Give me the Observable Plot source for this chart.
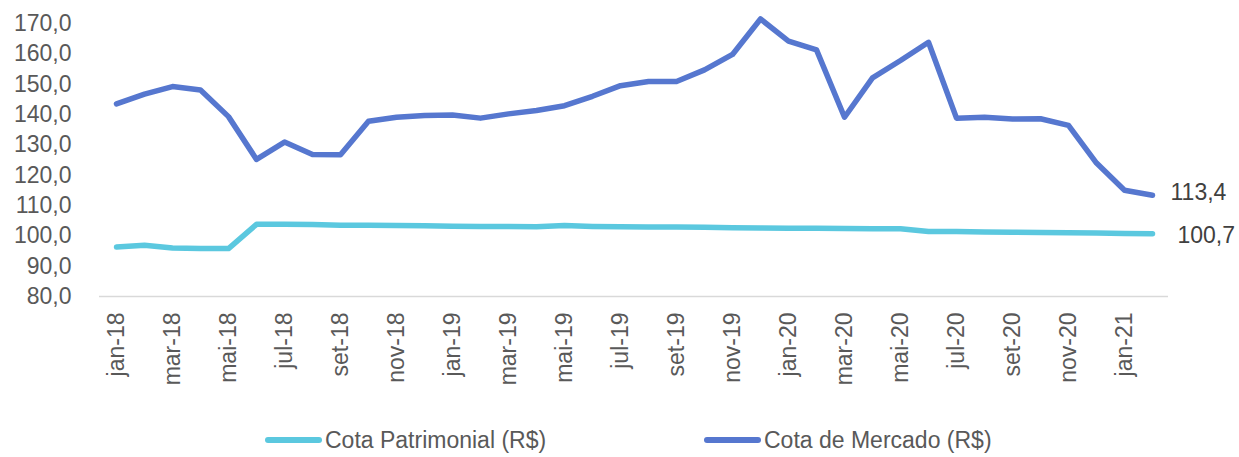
<!DOCTYPE html>
<html>
<head>
<meta charset="utf-8">
<script src="https://cdn.jsdelivr.net/npm/d3@7"></script>
<script src="https://cdn.jsdelivr.net/npm/@observablehq/plot@0.6"></script>
<style>
  html, body { margin: 0; padding: 0; background: #fff; }
  body { width: 1239px; height: 457px; overflow: hidden; font-family: "Liberation Sans", Arial, sans-serif; }
  #legend { position: relative; height: 30px; margin-top: 15px; font-size: 23px; color: #595959; }
  .item { position: absolute; top: 0; display: flex; align-items: center; height: 30px; }
  .sw { width: 57px; height: 5.5px; border-radius: 3px; margin-right: 3px; }
</style>
</head>
<body>
<div id="chart"></div>
<div id="legend"></div>
<script>
const months = ["jan-18","fev-18","mar-18","abr-18","mai-18","jun-18","jul-18","ago-18","set-18","out-18","nov-18","dez-18",
  "jan-19","fev-19","mar-19","abr-19","mai-19","jun-19","jul-19","ago-19","set-19","out-19","nov-19","dez-19",
  "jan-20","fev-20","mar-20","abr-20","mai-20","jun-20","jul-20","ago-20","set-20","out-20","nov-20","dez-20",
  "jan-21","fev-21"];
const tickLabels = ["jan-18","mar-18","mai-18","jul-18","set-18","nov-18","jan-19","mar-19","mai-19","jul-19","set-19","nov-19",
  "jan-20","mar-20","mai-20","jul-20","set-20","nov-20","jan-21"];
const cotaPatrimonial = [96.3,96.9,96.0,95.8,95.8,103.8,103.8,103.7,103.5,103.5,103.4,103.3,
  103.2,103.1,103.1,103.0,103.4,103.1,103.0,102.9,102.9,102.8,102.7,102.6,
  102.5,102.5,102.4,102.3,102.3,101.4,101.4,101.3,101.2,101.1,101.0,100.9,
  100.8,100.7];
const cotaMercado = [143.5,146.7,149.2,148.1,139.3,125.2,130.9,126.8,126.7,137.8,139.1,139.7,
  139.8,138.8,140.2,141.3,142.9,146.0,149.5,150.9,150.9,154.7,159.8,171.5,
  164.2,161.3,139.1,152.1,157.8,163.8,138.8,139.1,138.5,138.6,136.4,124.0,
  115.0,113.4];
const seriesNames = ["Cota Patrimonial (R$)", "Cota de Mercado (R$)"];
const colors = ["#5BC8DF", "#5677CF"];
const yTicks = [80,90,100,110,120,130,140,150,160,170];

const fmt = v => v.toFixed(1).replace(".", ",");
const rows = [];
months.forEach((m, i) => {
  rows.push({month: m, value: cotaPatrimonial[i], series: seriesNames[0]});
  rows.push({month: m, value: cotaMercado[i], series: seriesNames[1]});
});
const lastM = months[months.length - 1];
const lastPat = rows.filter(d => d.month === lastM && d.series === seriesNames[0]);
const lastMer = rows.filter(d => d.month === lastM && d.series === seriesNames[1]);

const chart = Plot.plot({
  width: 1239,
  height: 410,
  marginLeft: 99,
  marginRight: 71,
  marginTop: 23,
  marginBottom: 114,
  style: {fontFamily: '"Liberation Sans", Arial, sans-serif', fontSize: "23px", color: "#595959", background: "#fff"},
  x: {type: "point", domain: months, padding: 0.5},
  y: {domain: [80, 170]},
  color: {domain: seriesNames, range: colors},
  marks: [
    Plot.ruleY([80], {stroke: "#D9D9D9", strokeWidth: 1.5}),
    Plot.axisY({ticks: yTicks, tickSize: 0, tickPadding: 28, tickFormat: fmt, label: null, fill: "#595959"}),
    Plot.axisX({ticks: tickLabels, tickSize: 0, tickPadding: 16, tickRotate: -90, label: null, fill: "#595959"}),
    Plot.line(rows, {x: "month", y: "value", z: "series", stroke: "series", strokeWidth: 5.5, strokeLinejoin: "round", strokeLinecap: "round"}),
    Plot.text(lastMer, {x: "month", y: "value", text: d => fmt(d.value), textAnchor: "start", dx: 18, dy: -3, fill: "#404040", fontSize: 23}),
    Plot.text(lastPat, {x: "month", y: "value", text: d => fmt(d.value), textAnchor: "start", dx: 25, dy: 2, fill: "#404040", fontSize: 23})
  ]
});
document.getElementById("chart").appendChild(chart);

const legend = document.getElementById("legend");
const legendLeft = [265, 704];
seriesNames.forEach((n, i) => {
  const it = document.createElement("div");
  it.className = "item";
  it.style.left = legendLeft[i] + "px";
  const sw = document.createElement("div");
  sw.className = "sw";
  sw.style.background = colors[i];
  const t = document.createElement("span");
  t.textContent = n;
  it.appendChild(sw); it.appendChild(t);
  legend.appendChild(it);
});
</script>
</body>
</html>
